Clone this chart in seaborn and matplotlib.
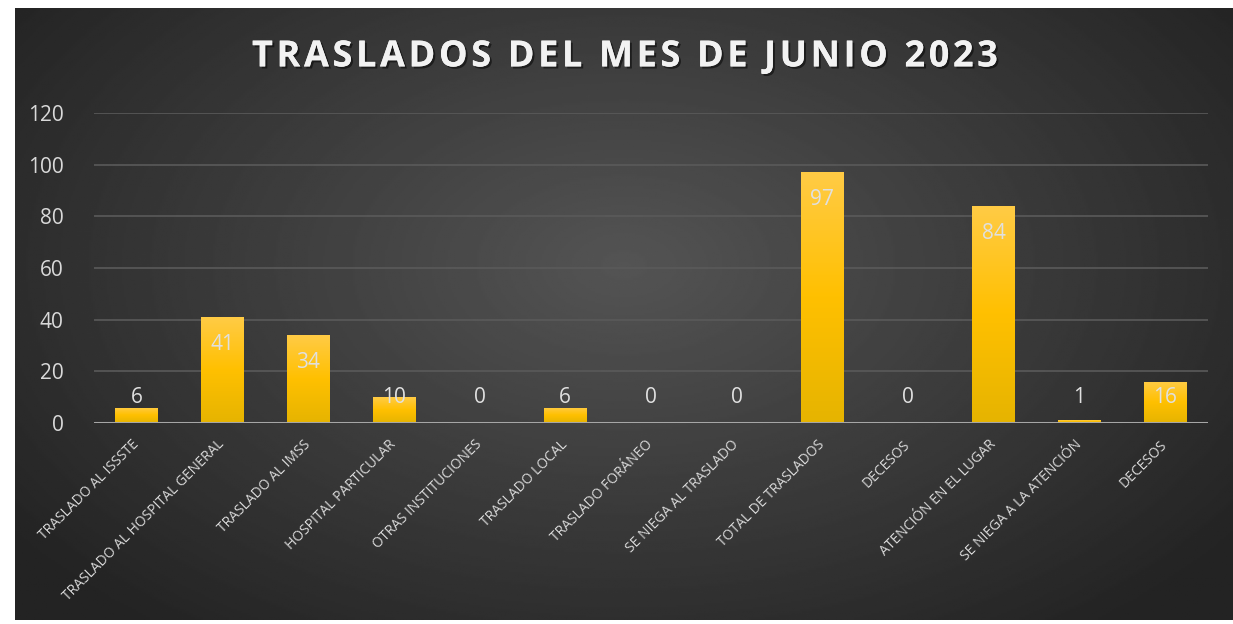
import numpy as np
import pandas as pd
import seaborn as sb
import matplotlib.pyplot as plt
from matplotlib import patheffects as pe
from matplotlib.colors import LinearSegmentedColormap

# data
categorias = ["TRASLADO AL ISSSTE", "TRASLADO AL HOSPITAL GENERAL", "TRASLADO AL IMSS",
              "HOSPITAL PARTICULAR", "OTRAS INSTITUCIONES", "TRASLADO LOCAL",
              "TRASLADO FORÁNEO", "SE NIEGA AL TRASLADO", "TOTAL DE TRASLADOS",
              "DECESOS", "ATENCIÓN EN EL LUGAR", "SE NIEGA A LA ATENCIÓN", "DECESOS "]
valores = [6, 41, 34, 10, 0, 6, 0, 0, 97, 0, 84, 1, 16]
titulo = "TRASLADOS DEL MES DE JUNIO 2023"
yticks = [0, 20, 40, 60, 80, 100, 120]

df = pd.DataFrame({"cat": categorias, "val": valores})

sb.set_style("white")
plt.rcParams['font.family'] = ['Open Sans', 'DejaVu Sans']

fig = plt.figure(figsize=(12.33, 6.24), dpi=100)
fig.patch.set_facecolor("white")

#dark background with radial gradient
bg = fig.add_axes([15/1233, 1-620/624, 1-15/1233, (620-8)/624])
yy, xx = np.mgrid[0:1:300j, 0:1:600j]
r = np.sqrt(((xx-0.5)/0.62)**2 + ((yy-0.42)/0.75)**2)
shade = 0.33 - 0.19*np.clip(r, 0, 1)
bg.imshow(shade, cmap="gray", vmin=0, vmax=1, aspect="auto", extent=[0, 1, 0, 1])
bg.set_axis_off()

ax = fig.add_axes([94/1233, 1-423/624, (1208-94)/1233, (423-113)/624])
ax.set_facecolor("none")
sb.barplot(data=df, x="cat", y="val", color="#FFC000", width=0.5, saturation=1,
           linewidth=0, ax=ax, zorder=3)

#golden gradient inside each bar
grad = np.linspace(0, 1, 100).reshape(-1, 1)
gold = LinearSegmentedColormap.from_list("gold", ["#E6B400", "#FFC000", "#FFCB45"])
for p in ax.patches:
    x0, w, h = p.get_x(), p.get_width(), p.get_height()
    if h <= 0:
        continue
    im = ax.imshow(grad, cmap=gold, aspect="auto", origin="lower",
                   extent=[x0, x0+w, 0, h], zorder=4)
    im.set_clip_path(p)

ax.set_xlim(-0.5, len(categorias)-0.5)
ax.set_ylim(0, 120)
ax.set_yticks(yticks)
ax.grid(axis="y", color="#5a5a5a", linewidth=1.2, zorder=0)
ax.axhline(0, color="#a6a6a6", linewidth=2.2, zorder=5)
for s in ax.spines.values():
    s.set_visible(False)
ax.set_xlabel("")
ax.set_ylabel("")
ax.tick_params(axis="y", colors="#d9d9d9", labelsize=15, length=0, pad=22)
ax.tick_params(axis="x", colors="#d9d9d9", labelsize=10, length=0, pad=14)
ax.set_xticks(range(len(categorias)))
ax.set_xticklabels([c.strip() for c in categorias], rotation=45, ha="right",
                   va="center", rotation_mode="anchor")

#data labels
for i, v in enumerate(valores):
    ax.text(i, max(v - 10.5, 9.7), str(v), ha="center", va="center",
            fontsize=15, color="#e0e0e0", zorder=6)

fig.text(0.507, 0.908, "\u200a".join(titulo), ha="center", va="center", fontsize=26,
         fontweight="bold", color="#f2f2f2",
         path_effects=[pe.withSimplePatchShadow(offset=(1.5, -1.5), shadow_rgbFace="black", alpha=0.5), pe.Normal()])

fig.savefig("out.png", dpi=100)
